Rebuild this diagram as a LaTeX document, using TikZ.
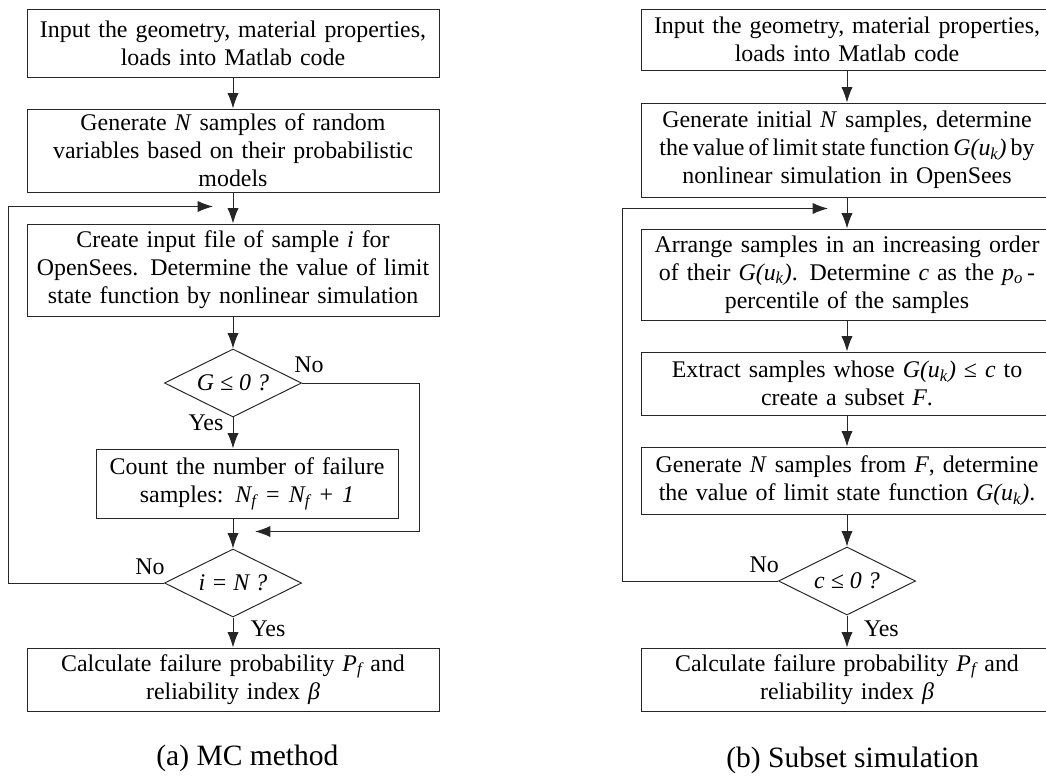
\documentclass[tikz,border=0pt]{standalone}
\usepackage{fontspec}
\setmainfont{Liberation Serif}
\usetikzlibrary{shapes.geometric, positioning, arrows.meta}

\begin{document}
\begin{tikzpicture}[>={Latex[length=11pt,width=8pt]},line width=0.7pt,on grid,
      block/.style={draw=black!85,rectangle,minimum width=10.3cm,text width=10.2cm,inner xsep=0.05cm,inner ysep=0pt,align=center,font=\fontsize{17}{20}\selectfont},
      decision/.style={draw=black!85,diamond,aspect=2,minimum width=3.43cm,minimum height=1.7cm,inner sep=0pt,font=\fontsize{17}{20}\selectfont\itshape},
      lbl/.style={inner sep=0pt,font=\fontsize{17}{20}\selectfont},
      caption/.style={inner sep=0pt,font=\fontsize{21}{24}\selectfont}]
      \useasboundingbox (0,0) rectangle (26.15,-19.4);
      % (a) MC method
      \node[block,minimum height=1.7cm] (a_1) at (5.825,-1.075) {Input the geometry, material properties,\\ loads into Matlab code};
      \node[block,minimum height=2.075cm] (a_2) [below=2.6875cm of a_1] {Generate \textit{N} samples of random\\ variables based on their probabilistic\\ models};
      \node[block,minimum height=2.3cm] (a_3) [below=2.9875cm of a_2] {Create input file of sample \textit{i} for\\ OpenSees. Determine the value of limit\\ state function by nonlinear simulation};
      \node[decision] (a_d1) [below=2.825cm of a_3] {G ≤ 0 ?};
      \node[block,minimum width=7.55cm,text width=7.45cm,minimum height=1.725cm] (a_4) [below=2.5125cm of a_d1,xshift=0.35cm] {Count the number of failure\\ samples: \textit{N\textsubscript{f} = N\textsubscript{f} + 1}};
      \node[decision] (a_d2) [below=5cm of a_d1] {i = N ?};
      \node[block,minimum height=1.575cm] (a_5) [below=2.4125cm of a_d2] {Calculate failure probability \textit{P\textsubscript{f}} and\\ reliability index \textit{β}};
      \node[caption] (a_cap) [below=1.9625cm of a_5,xshift=0.36cm] {(a) MC method};
      \node[lbl] (a_no1) [above right=0.45cm and 0.175cm of a_d1.east,anchor=center] {No};
      \node[lbl] (a_yes1) [below left=0.125cm and 0.675cm of a_d1.south,anchor=center] {Yes};
      \node[lbl] (a_no2) [above left=0.4cm and 0.35cm of a_d2.west,anchor=center] {No};
      \node[lbl] (a_yes2) [below right=0.275cm and 0.875cm of a_d2.south,anchor=center] {Yes};
      \coordinate[above left=0.425cm and 0.5cm of a_3.north] (a_in);
      \coordinate[above right=0.425cm and 0.55cm of a_d2.north] (a_merge);
      \path[->,color=black!85]
      (a_1) edge (a_2)
      (a_2) edge (a_3)
      (a_3) edge (a_d1)
      (a_d1) edge (a_4.north -| a_d1.south)
      (a_4.south -| a_d2.north) edge (a_d2)
      (a_d2) edge (a_5);
      \draw[->,draw=black!85] (a_d1.east) -- ++(2.925,0) |- (a_merge);
      \draw[->,draw=black!85] (a_d2.west) -- ++(-3.875,0) |- (a_in);
      % (b) Subset simulation
      \node[block,minimum height=1.525cm] (b_1) at (21.175,-0.9875) {Input the geometry, material properties,\\ loads into Matlab code};
      \node[block,minimum height=2.35cm] (b_2) [below=2.7625cm of b_1] {Generate initial \textit{N} samples, determine\\ {\spaceskip=0.17em\relax the value of limit state function \textit{G(u\textsubscript{k})} by}\\ nonlinear simulation in OpenSees};
      \node[block,minimum height=2.275cm] (b_3) [below=3.1125cm of b_2] {Arrange samples in an increasing order\\ of their \textit{G(u\textsubscript{k})}. Determine \textit{c} as the \textit{p\textsubscript{o}}\,-\\ percentile of the samples};
      \node[block,minimum height=1.575cm] (b_4) [below=2.725cm of b_3] {Extract samples whose \textit{G(u\textsubscript{k})} ≤ \textit{c} to\\ create a subset \textit{F}.};
      \node[block,minimum height=1.675cm] (b_5) [below=2.425cm of b_4] {Generate \textit{N} samples from \textit{F}, determine\\ the value of limit state function \textit{G(u\textsubscript{k})}.};
      \node[decision] (b_d) [below=2.5125cm of b_5] {c ≤ 0 ?};
      \node[block,minimum height=1.575cm] (b_6) [below=2.4625cm of b_d] {Calculate failure probability \textit{P\textsubscript{f}} and\\ reliability index \textit{β}};
      \node[caption] (b_cap) [below=2.0125cm of b_6,xshift=0.14cm] {(b) Subset simulation};
      \node[lbl] (b_no) [above left=0.4cm and 0.34cm of b_d.west,anchor=center] {No};
      \node[lbl] (b_yes) [below right=0.325cm and 0.86cm of b_d.south,anchor=center] {Yes};
      \coordinate[above left=0.5cm and 0.475cm of b_3.north] (b_in);
      \path[->,color=black!85]
      (b_1) edge (b_2)
      (b_2) edge (b_3)
      (b_3) edge (b_4)
      (b_4) edge (b_5)
      (b_5) edge (b_d)
      (b_d) edge (b_6);
      \draw[->,draw=black!85] (b_d.west) -- ++(-3.875,0) |- (b_in);
    \end{tikzpicture}
\end{document}
